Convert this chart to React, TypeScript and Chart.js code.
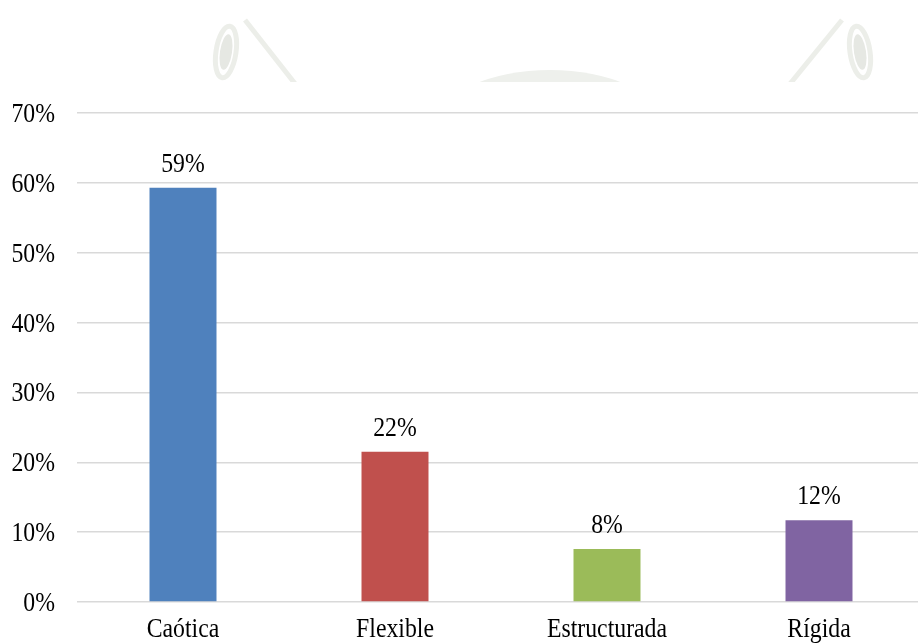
import React, { useEffect, useRef } from "react";
import { Chart, registerables } from "chart.js";

Chart.register(...registerables);

const categories = ["Caótica", "Flexible", "Estructurada", "Rígida"];
const values = [59.3, 21.5, 7.6, 11.7];
const valueLabels = ["59%", "22%", "8%", "12%"];
const barColors = ["#4F81BD", "#C0504D", "#9BBB59", "#8064A2"];
const tickValues = [0, 10, 20, 30, 40, 50, 60, 70];
const tickLabels = ["0%", "10%", "20%", "30%", "40%", "50%", "60%", "70%"];

const FONT = "'Liberation Serif', 'Times New Roman', serif";
const FONT_SIZE = 27;
const X_SCALE = 0.88;

function drawText(ctx: any, text: string, x: number, y: number, align: string) {
  ctx.save();
  ctx.translate(x, y);
  ctx.scale(X_SCALE, 1);
  ctx.textAlign = align;
  ctx.textBaseline = "alphabetic";
  ctx.fillText(text, 0, 0);
  ctx.restore();
}

const textPlugin = {
  id: "textLabels",
  afterDatasetsDraw(chart: any) {
    const ctx = chart.ctx;
    const meta = chart.getDatasetMeta(0);
    const yScale = chart.scales.y;
    const xScale = chart.scales.x;
    ctx.save();
    ctx.font = `${FONT_SIZE}px ${FONT}`;
    ctx.fillStyle = "#000";
    meta.data.forEach((bar: any, i: number) => {
      drawText(ctx, valueLabels[i], bar.x, bar.y - 16, "center");
    });
    tickValues.forEach((v, i) => {
      drawText(ctx, tickLabels[i], 55, yScale.getPixelForValue(v) + 9, "right");
    });
    categories.forEach((c, i) => {
      drawText(ctx, c, xScale.getPixelForValue(i), chart.chartArea.bottom + 35, "center");
    });
    ctx.restore();
  },
};

const watermarkPlugin = {
  id: "watermark",
  beforeDraw(chart: any) {
    const ctx = chart.ctx;
    ctx.save();
    ctx.beginPath();
    ctx.rect(180, 14, 730, 68);
    ctx.clip();
    ctx.strokeStyle = "#eceee9";
    ctx.fillStyle = "#e6e8e3";
    ctx.lineWidth = 5;
    // left ornament
    ctx.beginPath();
    ctx.ellipse(226, 52, 10, 26, 0.15, 0, Math.PI * 2);
    ctx.stroke();
    ctx.beginPath();
    ctx.ellipse(226, 52, 6, 18, 0.15, 0, Math.PI * 2);
    ctx.fill();
    ctx.beginPath();
    ctx.moveTo(245, 20);
    ctx.lineTo(300, 90);
    ctx.stroke();
    // middle arc
    ctx.fillStyle = "#eef0ec";
    ctx.beginPath();
    ctx.ellipse(550, 122, 110, 52, 0, 0, Math.PI * 2);
    ctx.fill();
    // right ornament
    ctx.fillStyle = "#e6e8e3";
    ctx.beginPath();
    ctx.ellipse(860, 52, 10, 26, -0.15, 0, Math.PI * 2);
    ctx.stroke();
    ctx.beginPath();
    ctx.ellipse(860, 52, 6, 18, -0.15, 0, Math.PI * 2);
    ctx.fill();
    ctx.beginPath();
    ctx.moveTo(842, 20);
    ctx.lineTo(785, 90);
    ctx.stroke();
    ctx.restore();
  },
};

export default function App() {
  const ref = useRef<HTMLCanvasElement>(null);
  useEffect(() => {
    if (!ref.current) return;
    const chart = new Chart(ref.current, {
      type: "bar",
      data: {
        labels: categories,
        datasets: [
          {
            data: values,
            backgroundColor: barColors,
            barPercentage: 0.316,
            categoryPercentage: 1,
          },
        ],
      },
      options: {
        animation: false,
        responsive: false,
        maintainAspectRatio: false,
        layout: { padding: { top: 113, right: 15, bottom: 0, left: 0 } },
        plugins: { legend: { display: false }, tooltip: { enabled: false } },
        scales: {
          x: {
            grid: { display: false, drawTicks: false },
            border: { display: false },
            ticks: { display: false },
            afterFit(scale: any) {
              scale.height = 41;
            },
          },
          y: {
            min: 0,
            max: 70,
            afterBuildTicks(scale: any) {
              scale.ticks = tickValues.map((v) => ({ value: v }));
            },
            grid: { color: "#d9d9d9", lineWidth: 1.5, drawTicks: false },
            border: { display: false },
            ticks: { display: false },
            afterFit(scale: any) {
              scale.width = 77;
            },
          },
        },
      },
      plugins: [watermarkPlugin, textPlugin],
    });
    return () => chart.destroy();
  }, []);
  return (
    <div
      style={{
        position: "fixed",
        left: 0,
        top: 0,
        width: 918,
        height: 643,
        overflow: "hidden",
        background: "#fff",
      }}
    >
      <canvas ref={ref} width={940} height={643} style={{ display: "block" }} />
    </div>
  );
}
